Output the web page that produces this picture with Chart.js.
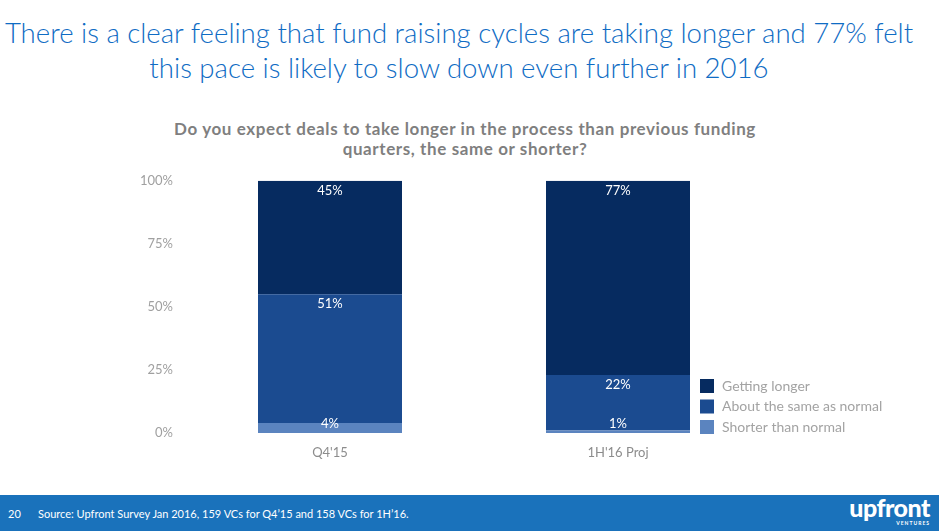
<!DOCTYPE html>
<html>
<head>
<meta charset="utf-8">
<script src="https://cdn.jsdelivr.net/npm/chart.js@4"></script>
<style>
  html, body { margin:0; padding:0; width:939px; height:531px; background:#fff; overflow:hidden; font-family: Lato, "Open Sans", sans-serif; }
  #title { position:absolute; left:0; top:15px; width:918px; text-align:center; color:#0f6cc4; font-size:27.6px; line-height:35px; font-weight:300; }
  #subtitle { position:absolute; left:0; top:119px; width:930px; text-align:center; color:#7f7f7f; font-size:17px; line-height:20px; font-weight:700; letter-spacing:0.6px; }
  #wrap { position:absolute; left:0; top:160px; width:939px; height:310px; }
  #footer { position:absolute; left:0; top:495px; width:939px; height:36px; background:#1a72bb; color:#fff; }
  #pg { position:absolute; left:8px; top:12px; font-size:11px; }
  #src { position:absolute; left:38px; top:12px; font-size:11px; }
  #logo { position:absolute; right:9px; top:0px; font-size:25px; font-weight:900; letter-spacing:-0.5px; line-height:25px; text-align:right; }
  #logo small { display:block; font-size:5px; letter-spacing:1px; line-height:6px; font-weight:700; }
</style>
</head>
<body>
<div id="title">There is a clear feeling that fund raising cycles are taking longer and 77% felt<br>this pace is likely to slow down even further in 2016</div>
<div id="subtitle">Do you expect deals to take longer in the process than previous funding<br>quarters, the same or shorter?</div>
<div id="wrap"><canvas id="c"></canvas></div>
<div id="footer"><span id="pg">20</span><span id="src">Source: Upfront Survey Jan 2016, 159 VCs for Q4’15 and 158 VCs for 1H’16.</span><div id="logo">upfront<small>VENTURES</small></div></div>
<script>
const categories = ["Q4'15", "1H'16 Proj"];
const shorterThanNormal = [4, 1];
const aboutTheSame = [51, 22];
const gettingLonger = [45, 77];
const yTicks = [0, 25, 50, 75, 100];
const seriesNames = ["Shorter than normal", "About the same as normal", "Getting longer"];
const seriesColors = ["#5b84bf", "#1b4b90", "#062b60"];

const labelPlugin = {
  id: 'segLabels',
  afterDatasetsDraw(chart) {
    const ctx = chart.ctx;
    ctx.save();
    ctx.fillStyle = '#ffffff';
    ctx.font = '13px Lato, "Open Sans", sans-serif';
    ctx.textAlign = 'center';
    ctx.textBaseline = 'middle';
    chart.data.datasets.forEach((ds, di) => {
      chart.getDatasetMeta(di).data.forEach((bar, i) => {
        const top = Math.min(bar.y, bar.base);
        const bottom = Math.max(bar.y, bar.base);
        const y = Math.min(top + 10, bottom - 9);
        ctx.fillText(ds.data[i] + '%', bar.x, y);
      });
    });
    ctx.restore();
  }
};

const legendPlugin = {
  id: 'sideLegend',
  afterDraw(chart) {
    const ctx = chart.ctx;
    ctx.save();
    ctx.font = '14px Lato, "Open Sans", sans-serif';
    ctx.textBaseline = 'middle';
    const x0 = chart.chartArea.right - 62;
    const items = chart.data.datasets.slice().reverse();
    items.forEach((ds, k) => {
      const cy = chart.chartArea.bottom - 47 + k * 20.5;
      ctx.fillStyle = ds.backgroundColor;
      ctx.fillRect(x0, cy - 7, 14, 14);
      ctx.fillStyle = '#a3a3a3';
      ctx.fillText(ds.label, x0 + 22, cy);
    });
    ctx.restore();
  }
};

new Chart(document.getElementById('c'), {
  type: 'bar',
  data: {
    labels: categories,
    datasets: [
      { label: seriesNames[0], data: shorterThanNormal, backgroundColor: seriesColors[0] },
      { label: seriesNames[1], data: aboutTheSame, backgroundColor: seriesColors[1] },
      { label: seriesNames[2], data: gettingLonger, backgroundColor: seriesColors[2] }
    ]
  },
  options: {
    responsive: true,
    maintainAspectRatio: false,
    animation: false,
    datasets: { bar: { barPercentage: 0.5, categoryPercentage: 1.0 } },
    layout: { padding: { left: 0, right: 177, top: 0, bottom: 0 } },
    plugins: { legend: { display: false }, tooltip: { enabled: false } },
    scales: {
      x: {
        stacked: true,
        grid: { display: false, drawTicks: false },
        border: { display: false },
        ticks: { color: '#8c8c8c', font: { size: 13, family: 'Lato, "Open Sans", sans-serif' }, padding: 12 },
        afterFit(s) { s.height = 37; }
      },
      y: {
        stacked: true,
        min: 0, max: 100,
        afterBuildTicks(s) { s.ticks = yTicks.map(v => ({ value: v })); },
        grid: { display: false, drawTicks: false },
        border: { display: false },
        ticks: { color: '#a0a0a0', font: { size: 13, family: 'Lato, "Open Sans", sans-serif' }, padding: 13, callback: v => v + '%' },
        afterFit(s) { s.width = 186; }
      }
    }
  },
  plugins: [labelPlugin, legendPlugin]
});
</script>
</body>
</html>
